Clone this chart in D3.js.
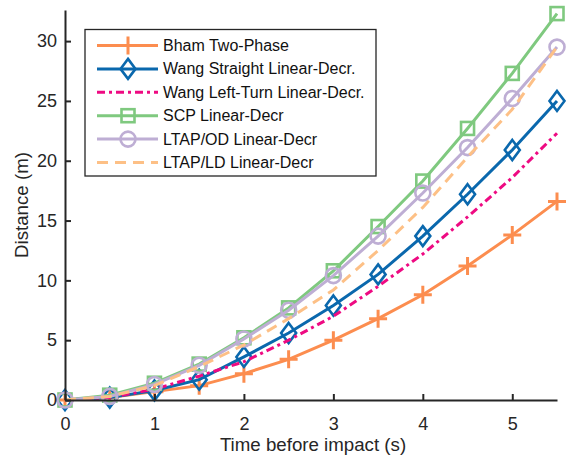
<!DOCTYPE html>
<html>
<head>
<meta charset="utf-8">
<script src="https://cdn.jsdelivr.net/npm/d3@7"></script>
<style>
  body { margin: 0; background: #fff; }
  svg { display: block; font-family: "Liberation Sans", Arial, sans-serif; }
</style>
</head>
<body>
<script>
const width = 566;
const height = 461;

// time before impact (s)
const times = [0, 0.5, 1, 1.5, 2, 2.5, 3, 3.5, 4, 4.5, 5, 5.5];

// distance (m) per model
const bhamTwoPhase = [0, 0.2, 0.7, 1.2, 2.2, 3.4, 5.0, 6.8, 8.8, 11.2, 13.8, 16.6];
const wangStraight = [0, 0.2, 0.8, 1.7, 3.6, 5.6, 7.9, 10.5, 13.7, 17.2, 20.9, 25.0];
const wangLeftTurn = [0, 0.2, 0.9, 2.0, 3.2, 5.0, 7.0, 9.5, 12.2, 15.3, 18.6, 22.3];
const scpLinear = [0, 0.4, 1.4, 3.0, 5.2, 7.7, 10.8, 14.5, 18.3, 22.7, 27.3, 32.3];
const ltapOD = [0, 0.3, 1.3, 2.9, 5.1, 7.5, 10.4, 13.7, 17.3, 21.1, 25.2, 29.5];
const ltapLD = [0, 0.3, 1.2, 2.8, 4.6, 6.8, 9.2, 12.5, 16.1, 20.3, 24.3, 29.5];

const xTicks = [0, 1, 2, 3, 4, 5];
const yTicks = [0, 5, 10, 15, 20, 25, 30];

const series = [
  {name: "Bham Two-Phase", values: bhamTwoPhase, color: "#fc8d4f", marker: "plus", dash: null},
  {name: "Wang Straight Linear-Decr.", values: wangStraight, color: "#0a68ad", marker: "diamond", dash: null},
  {name: "Wang Left-Turn Linear-Decr.", values: wangLeftTurn, color: "#ee0a82", marker: null, dash: "8,4,3,4"},
  {name: "SCP Linear-Decr", values: scpLinear, color: "#7fc97f", marker: "square", dash: null},
  {name: "LTAP/OD Linear-Decr", values: ltapOD, color: "#beaed4", marker: "circle", dash: null},
  {name: "LTAP/LD Linear-Decr", values: ltapLD, color: "#fdc086", marker: null, dash: "11,7"}
];

const axisColor = "#262626";

const x = d3.scaleLinear().domain([0, 5.5]).range([65, 557]);
const y = d3.scaleLinear().domain([0, 32.6]).range([400, 10]);

const svg = d3.select(document.body).append("svg")
  .attr("width", width)
  .attr("height", height);

function drawMarker(g, type, cx, cy, color) {
  if (type === "plus") {
    g.append("path").attr("d", `M${cx - 9},${cy}H${cx + 9}M${cx},${cy - 9}V${cy + 9}`)
      .attr("stroke", color).attr("stroke-width", 3).attr("fill", "none");
  } else if (type === "diamond") {
    g.append("path").attr("d", `M${cx},${cy - 10}L${cx + 7.5},${cy}L${cx},${cy + 10}L${cx - 7.5},${cy}Z`)
      .attr("stroke", color).attr("stroke-width", 2.6).attr("fill", "none");
  } else if (type === "square") {
    g.append("rect").attr("x", cx - 6.5).attr("y", cy - 6.5).attr("width", 13).attr("height", 13)
      .attr("stroke", color).attr("stroke-width", 2.6).attr("fill", "none");
  } else if (type === "circle") {
    g.append("circle").attr("cx", cx).attr("cy", cy).attr("r", 7.5)
      .attr("stroke", color).attr("stroke-width", 2.6).attr("fill", "none");
  }
}

// lines
const line = d3.line().x((d, i) => x(times[i])).y(d => y(d));
series.forEach(s => {
  const g = svg.append("g");
  g.append("path")
    .attr("d", line(s.values))
    .attr("fill", "none")
    .attr("stroke", s.color)
    .attr("stroke-width", 3)
    .attr("stroke-dasharray", s.dash);
  if (s.marker) {
    s.values.forEach((v, i) => drawMarker(g, s.marker, x(times[i]), y(v), s.color));
  }
});

// axes
const xAxis = svg.append("g")
  .attr("transform", "translate(0,400)")
  .call(d3.axisBottom(x).tickValues(xTicks).tickFormat(d3.format("d"))
    .tickSizeInner(-6).tickSizeOuter(0).tickPadding(17));
const yAxis = svg.append("g")
  .attr("transform", "translate(65,0)")
  .call(d3.axisLeft(y).tickValues(yTicks).tickFormat(d3.format("d"))
    .tickSizeInner(-6).tickSizeOuter(0).tickPadding(8));

[xAxis, yAxis].forEach(a => {
  a.select(".domain").attr("stroke", axisColor).attr("stroke-width", 2);
  a.selectAll(".tick line").attr("stroke", axisColor).attr("stroke-width", 2);
  a.selectAll(".tick text").attr("fill", axisColor).attr("font-size", 18)
    .attr("font-family", "Liberation Sans, Arial, sans-serif");
});

svg.append("text")
  .attr("x", 313).attr("y", 451)
  .attr("text-anchor", "middle")
  .attr("font-size", 18.7)
  .attr("fill", axisColor)
  .text("Time before impact (s)");

svg.append("text")
  .attr("transform", "translate(28,205) rotate(-90)")
  .attr("text-anchor", "middle")
  .attr("font-size", 18.7)
  .attr("fill", axisColor)
  .text("Distance (m)");

// legend
const legend = svg.append("g");
legend.append("rect")
  .attr("x", 85).attr("y", 29.5).attr("width", 291).attr("height", 146.5)
  .attr("fill", "#fff").attr("stroke", axisColor).attr("stroke-width", 1.3);

series.forEach((s, i) => {
  const cy = 45.5 + i * 23.4;
  legend.append("line")
    .attr("x1", 97).attr("x2", 158).attr("y1", cy).attr("y2", cy)
    .attr("stroke", s.color).attr("stroke-width", 3)
    .attr("stroke-dasharray", s.dash);
  if (s.marker) drawMarker(legend, s.marker, 128, cy, s.color);
  legend.append("text")
    .attr("x", 163).attr("y", cy + 5.5)
    .attr("font-size", 16)
    .attr("fill", "#111")
    .text(s.name);
});
</script>
</body>
</html>
